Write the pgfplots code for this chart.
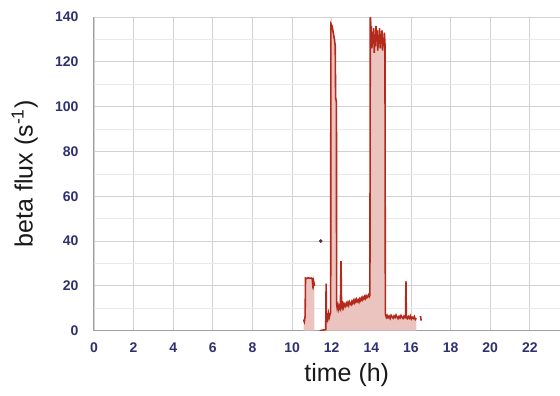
\documentclass[border=0pt]{standalone}
\usepackage{pgfplots}
\pgfplotsset{compat=1.18}
\usepackage{pgfplotstable}
\usepackage{fontspec}
\setmainfont{Liberation Sans}
\definecolor{tickc}{HTML}{2E3070}
\definecolor{linec}{HTML}{B3291C}
\definecolor{fillc}{HTML}{EBC3BF}
\definecolor{gridc}{HTML}{D2D2D2}
\definecolor{minorc}{HTML}{E9E9E9}
\definecolor{dotc}{HTML}{5A2A2A}

\pgfplotstableread{
t v
10.58 5.0
10.62 4.0
10.66 6.5
10.68 23.5
10.75 23.3
10.82 23.6
10.90 23.4
10.97 23.5
11.02 23.2
11.04 21.0
11.06 22.0
11.08 20.5
11.10 21.6
11.12 20.8
11.13 20.0
}\segA

\pgfplotstableread{
t v
11.40 0.0
11.70 0.5
11.72 21.0
11.74 4.0
11.77 6.5
11.80 5.2
11.84 7.8
11.88 6.0
11.92 7.5
11.95 8.0
11.96 137.0
12.02 136.0
12.08 133.0
12.14 130.0
12.18 127.0
12.20 104.0
12.24 102.0
12.25 12.0
12.28 10.0
12.32 11.5
12.36 9.5
12.40 11.0
12.44 10.0
12.47 31.0
12.50 11.0
12.53 10.2
12.56 11.8
12.60 10.5
12.63 12.0
12.67 11.2
12.70 10.8
12.74 12.3
12.78 11.5
12.82 12.6
12.86 11.4
12.90 12.8
12.94 12.0
12.98 11.6
13.02 13.0
13.06 12.2
13.10 13.4
13.14 12.5
13.18 13.8
13.22 12.9
13.26 14.0
13.30 13.1
13.34 13.7
13.38 12.8
13.42 14.2
13.46 13.5
13.50 14.6
13.54 13.8
13.58 14.9
13.62 14.2
13.66 15.2
13.70 14.4
13.74 15.6
13.78 14.8
13.82 15.3
13.86 16.0
13.90 15.2
13.93 15.8
13.95 140.0
13.98 132.0
14.00 136.0
14.03 126.0
14.06 133.0
14.09 128.0
14.12 135.0
14.15 124.0
14.18 131.0
14.21 127.0
14.24 136.0
14.27 129.0
14.30 134.0
14.33 125.0
14.36 132.0
14.39 128.0
14.42 135.0
14.45 126.0
14.48 131.0
14.51 129.0
14.54 134.0
14.57 125.0
14.60 130.0
14.63 127.0
14.66 133.0
14.69 128.0
14.71 7.5
14.76 6.0
14.80 6.8
14.85 5.8
14.90 6.5
14.95 5.5
15.00 6.9
15.05 6.2
15.10 5.6
15.15 6.6
15.20 5.9
15.25 7.0
15.30 6.1
15.35 5.4
15.40 6.4
15.45 5.7
15.50 6.8
15.55 6.0
15.60 5.5
15.65 6.5
15.70 5.8
15.73 6.2
15.75 22.0
15.77 6.0
15.82 5.4
15.87 6.3
15.92 5.6
15.97 6.6
16.02 5.2
16.07 6.0
16.12 5.5
16.17 6.3
16.22 5.0
16.27 5.6
}\segB

\pgfplotstableread{
t v
16.48 6.5
16.52 4.5
}\segC

\begin{document}
\begin{tikzpicture}
\begin{axis}[
  scale only axis, width=466pt, height=314pt,
  xmin=0, xmax=23.5, ymin=0, ymax=140,
  xtick={0,2,...,22}, ytick={0,20,...,140},
  minor y tick num=1,
  grid=both,
  major grid style={draw=gridc, line width=0.8pt},
  minor grid style={draw=minorc, line width=0.6pt},
  major tick length=0pt, minor tick length=0pt,
  axis x line*=bottom, axis y line*=left,
  axis line style={draw=gray!75, line width=1pt, -},
  /pgf/number format/assume math mode=true,
  tick label style={font=\bfseries\fontsize{14}{16}\selectfont, text=tickc},
  xticklabel style={yshift=-9pt},
  yticklabel style={xshift=-12pt},
  xlabel={time (h)},
  ylabel={beta flux (s\textsuperscript{-1})},
  label style={font=\fontsize{25}{28}\selectfont, text=black!90},
  xlabel style={at={(axis description cs:0.543,0)}, anchor=north, inner sep=0pt, yshift=-33pt},
  ylabel style={at={(axis description cs:-0.120,0.5)}, anchor=south, inner sep=0pt},
]
\addplot[fill=fillc, draw=none] table[x=t,y=v]{\segA} \closedcycle;
\addplot[fill=fillc, draw=none] table[x=t,y=v]{\segB} \closedcycle;
\addplot[linec, line width=1.6pt] table[x=t,y=v]{\segA};
\addplot[linec, line width=1.6pt] table[x=t,y=v]{\segB};
\addplot[linec, line width=1.6pt] table[x=t,y=v]{\segC};
\addplot[only marks, mark=*, mark size=1.6pt, color=dotc] coordinates {(11.45,40)};
\end{axis}
\path (current axis.south west) ++(-94pt,-65pt) rectangle ++(560pt,396pt);
\end{tikzpicture}
\end{document}
